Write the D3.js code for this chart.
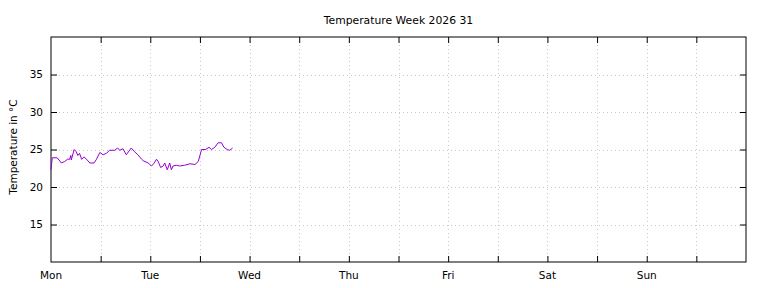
<!DOCTYPE html>
<html>
<head>
<meta charset="utf-8">
<script src="https://cdn.jsdelivr.net/npm/d3@7"></script>
<style>
  body { margin: 0; background: #fff; }
  text { font-family: "DejaVu Sans", sans-serif; font-size: 10.5px; fill: #000; }
</style>
</head>
<body>
<svg id="graphic-svg" width="768" height="288"></svg>
<script>
// hours since Monday 00:00
var hours = [0, 0.3, 1.5, 2.5, 3.3, 4.0, 4.5, 4.8, 4.9, 5.6, 6.1, 6.5, 6.9, 7.4, 8.0, 8.6, 9.4, 10.4, 11.0, 11.8,
  12.6, 13.4, 14.2, 15.4, 16.1, 16.6, 17.4, 18.2, 19.4, 20.2, 21.0, 21.9, 22.3, 23.5, 24.3, 24.8, 25.5, 25.9,
  26.5, 27.1, 27.5, 28.1, 28.7, 29.1, 29.5, 30.3, 31.1, 32.3, 33.6, 34.8, 35.6, 36.4, 37.4, 38.2, 38.8, 39.6,
  40.4, 41.2, 41.8, 42.6, 43.2, 43.9];
var temps = [22.3, 23.9, 23.9, 23.2, 23.4, 23.7, 23.7, 24.2, 23.6, 25.0, 24.7, 24.2, 24.5, 23.7, 24.0, 23.7, 23.2, 23.2, 23.7, 24.6,
  24.3, 24.5, 24.9, 24.9, 25.2, 24.9, 25.1, 24.3, 25.2, 24.7, 24.3, 23.7, 23.5, 23.2, 22.8, 23.1, 23.7, 23.4,
  22.6, 22.8, 23.2, 22.3, 23.2, 22.3, 22.8, 22.9, 22.8, 22.9, 23.1, 23.0, 23.4, 25.0, 25.0, 25.3, 25.0, 25.3,
  25.9, 25.9, 25.3, 25.0, 24.9, 25.2];
var dayLabels = ["Mon", "Tue", "Wed", "Thu", "Fri", "Sat", "Sun"];
var yTicks = [15, 20, 25, 30, 35];

function init() {
  var svg = d3.select("#graphic-svg");
  var width = 768, height = 288;
  var margin = { left: 51, right: 22, top: 37, bottom: 26 };

  var x = d3.scaleLinear().domain([0, 168]).range([margin.left, width - margin.right]);
  var y = d3.scaleLinear().domain([10, 40]).range([height - margin.bottom, margin.top]);

  var halfDays = d3.range(12, 168, 12);

  // grid
  svg.append("g")
     .selectAll("line")
     .data(halfDays)
     .enter()
     .append("line")
     .attr("x1", function(d) { return Math.round(x(d)) + 0.5; })
     .attr("x2", function(d) { return Math.round(x(d)) + 0.5; })
     .attr("y1", y(40))
     .attr("y2", y(10))
     .attr("stroke", "#c8c8c8")
     .attr("stroke-dasharray", "1,3");
  svg.append("g")
     .selectAll("line")
     .data(yTicks)
     .enter()
     .append("line")
     .attr("x1", x(0))
     .attr("x2", x(168))
     .attr("y1", function(d) { return Math.round(y(d)) + 0.5; })
     .attr("y2", function(d) { return Math.round(y(d)) + 0.5; })
     .attr("stroke", "#c8c8c8")
     .attr("stroke-dasharray", "1,3");

  // axes (ticks inward, mirrored)
  var xAxisB = d3.axisBottom(x).tickValues(halfDays).tickSize(-6).tickFormat("");
  var xAxisT = d3.axisTop(x).tickValues(halfDays).tickSize(-6).tickFormat("");
  var yAxisL = d3.axisLeft(y).tickValues(yTicks).tickSize(-6).tickPadding(8);
  var yAxisR = d3.axisRight(y).tickValues(yTicks).tickSize(-6).tickFormat("");

  [
    svg.append("g").attr("transform", "translate(0," + y(10) + ")").call(xAxisB),
    svg.append("g").attr("transform", "translate(0," + y(40) + ")").call(xAxisT),
    svg.append("g").attr("transform", "translate(" + x(0) + ",0)").call(yAxisL),
    svg.append("g").attr("transform", "translate(" + x(168) + ",0)").call(yAxisR)
  ].forEach(function(g) {
    g.select(".domain").remove();
    g.selectAll("line").attr("stroke", "#000");
    g.selectAll("text").attr("font-family", null).attr("font-size", null).attr("fill", null);
  });

  // day labels
  svg.append("g")
     .selectAll("text")
     .data(dayLabels)
     .enter()
     .append("text")
     .attr("x", function(d, i) { return x(i * 24); })
     .attr("y", height - 9.5)
     .attr("text-anchor", "middle")
     .text(function(d) { return d; });

  // border
  svg.append("rect")
     .attr("x", x(0))
     .attr("y", y(40))
     .attr("width", x(168) - x(0))
     .attr("height", y(10) - y(40))
     .attr("fill", "none")
     .attr("stroke", "#000");

  // line
  var line = d3.line()
     .x(function(d, i) { return x(hours[i]); })
     .y(function(d) { return y(d); });
  svg.append("path")
     .datum(temps)
     .attr("d", line)
     .attr("fill", "none")
     .attr("stroke", "#9400d3")
     .attr("stroke-width", 1);

  // title
  svg.append("text")
     .attr("x", (x(0) + x(168)) / 2)
     .attr("y", 23.5)
     .attr("text-anchor", "middle")
     .style("font-size", "10.8px")
     .text("Temperature Week 2026 31");

  // y label
  svg.append("text")
     .attr("transform", "translate(16.5,147) rotate(-90)")
     .attr("text-anchor", "middle")
     .text("Temperature in °C");
}

init();
</script>
</body>
</html>
